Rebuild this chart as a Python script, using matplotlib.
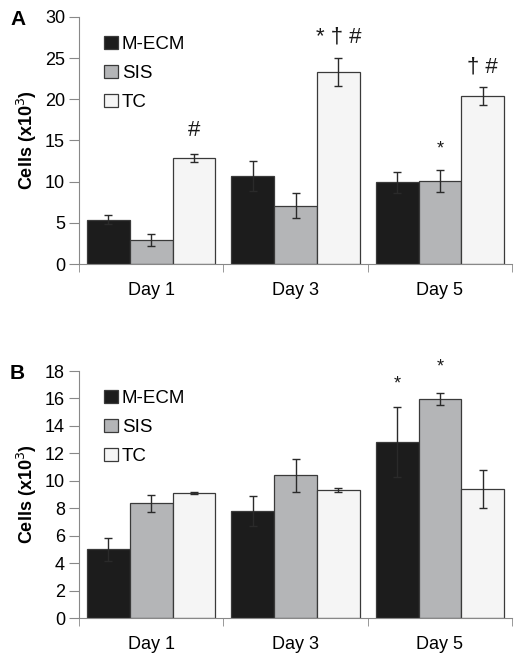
import numpy as np
import matplotlib
matplotlib.use("Agg")
import matplotlib.pyplot as plt

plt.rcParams['font.family'] = ['Liberation Sans', 'DejaVu Sans']

days = ['Day 1', 'Day 3', 'Day 5']
groups = ['M-ECM', 'SIS', 'TC']
colors = ['#1c1c1c', '#b4b5b7', '#f5f5f5']

# panel A
a_mecm = [5.4, 10.7, 9.9]
a_sis = [2.9, 7.1, 10.1]
a_tc = [12.9, 23.3, 20.4]
a_mecm_err = [0.5, 1.8, 1.3]
a_sis_err = [0.7, 1.5, 1.3]
a_tc_err = [0.5, 1.7, 1.1]

# panel B
b_mecm = [5.0, 7.8, 12.8]
b_sis = [8.35, 10.4, 15.95]
b_tc = [9.1, 9.35, 9.4]
b_mecm_err = [0.85, 1.1, 2.55]
b_sis_err = [0.6, 1.2, 0.45]
b_tc_err = [0.05, 0.15, 1.4]

# significance marks: (group index, day index, y, text)
a_marks = [(2, 0, 14.9, '#'), (2, 1, 26.3, '* † #'), (2, 2, 22.6, '† #'), (1, 2, 12.9, '*')]
b_marks = [(0, 2, 16.4, '*'), (1, 2, 17.7, '*')]

fig = plt.figure(figsize=(5.28, 6.61), dpi=100)
axA = fig.add_axes([0.1496, 0.6006, 0.8204, 0.3737])
axB = fig.add_axes([0.1496, 0.065, 0.8204, 0.3737])

w = 0.296
x = np.arange(len(days))


def draw(ax, vals, errs, ymax, step, marks, letter):
    for i, (v, e) in enumerate(zip(vals, errs)):
        ax.bar(x + (i - 1) * w, v, w, color=colors[i], edgecolor='#3a3a3a',
               linewidth=0.9, label=groups[i], zorder=2)
        ax.errorbar(x + (i - 1) * w, v, yerr=e, fmt='none', ecolor='#2a2a2a',
                    elinewidth=1.0, capsize=3, capthick=1.0, zorder=3)
    for gi, di, y, t in marks:
        big = '#' in t or '†' in t
        ax.text(x[di] + (gi - 1) * w, y, t, ha='center', va='bottom',
                fontsize=16 if big else 13, color='#1a1a1a')
    ax.set_xlim(-0.5, 2.5)
    ax.set_ylim(0, ymax)
    ax.set_yticks(np.arange(0, ymax + 0.1, step))
    ax.set_xticks(x)
    ax.set_xticklabels(days, fontsize=13)
    ax.set_xticks([-0.5, 0.5, 1.5, 2.5], minor=True)
    ax.tick_params(axis='x', which='major', length=0, pad=13)
    ax.tick_params(axis='x', which='minor', length=6, color='#888888')
    ax.tick_params(axis='y', length=7, color='#888888', labelsize=13, pad=3)
    for s in ['top', 'right']:
        ax.spines[s].set_visible(False)
    for s in ['left', 'bottom']:
        ax.spines[s].set_color('#888888')
    ax.set_ylabel('Cells (x10$^3$)', fontsize=13, fontweight='bold', labelpad=4)
    ax.legend(loc='upper left', bbox_to_anchor=(0.04, 0.955), frameon=False,
              fontsize=13.5, handlelength=0.75, handleheight=0.75,
              handletextpad=0.2, labelspacing=0.62, borderaxespad=0)
    ax.text(-0.159, 0.99, letter, transform=ax.transAxes, fontsize=15,
            fontweight='bold', ha='left', va='center')


draw(axA, [a_mecm, a_sis, a_tc], [a_mecm_err, a_sis_err, a_tc_err], 30, 5, a_marks, 'A')
draw(axB, [b_mecm, b_sis, b_tc], [b_mecm_err, b_sis_err, b_tc_err], 18, 2, b_marks, 'B')

fig.savefig('out.png', dpi=100)
